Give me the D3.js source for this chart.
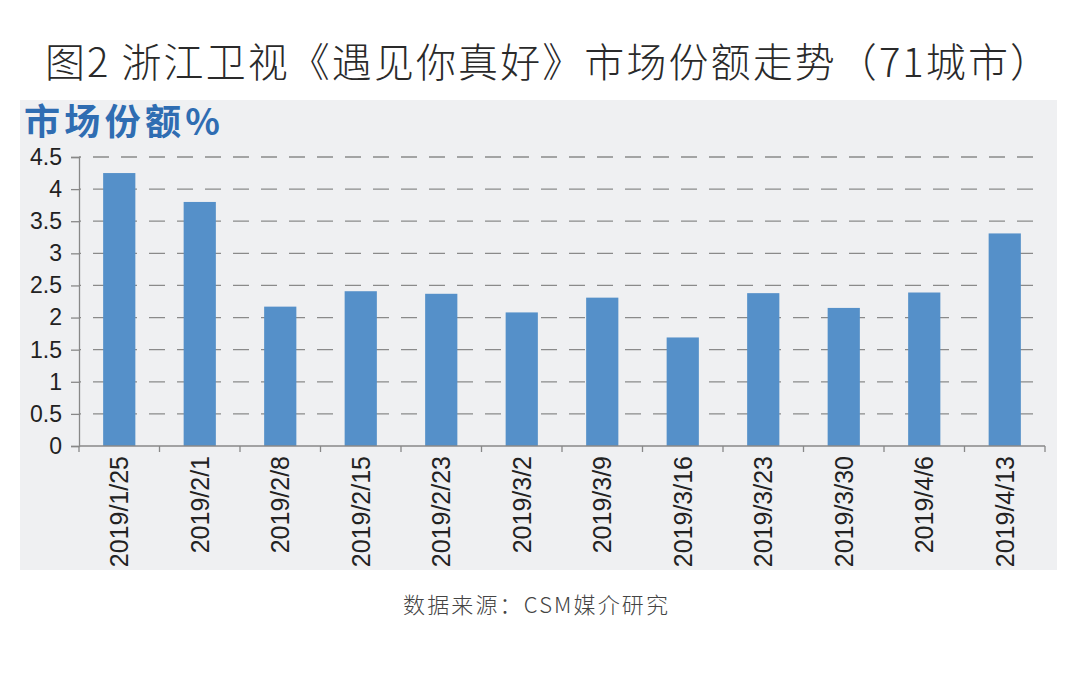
<!DOCTYPE html>
<html><head><meta charset="utf-8">
<script src="https://cdn.jsdelivr.net/npm/d3@7"></script>
<style>body{margin:0;background:#fff;}svg{display:block;}</style>
</head><body>
<svg id="c" width="1080" height="692"></svg>
<script>
const titleText = "图2 浙江卫视《遇见你真好》市场份额走势（71城市）";
const yLabel = "市场份额%";
const sourceText = "数据来源：CSM媒介研究";
const categories = ["2019/1/25","2019/2/1","2019/2/8","2019/2/15","2019/2/23","2019/3/2","2019/3/9","2019/3/16","2019/3/23","2019/3/30","2019/4/6","2019/4/13"];
const values = [4.25,3.80,2.17,2.41,2.37,2.08,2.31,1.69,2.38,2.15,2.39,3.31];
const yTicks = [0,0.5,1,1.5,2,2.5,3,3.5,4,4.5];

const svg = d3.select("#c");
const pL = 79, pR = 1045, pT = 157, pB = 446;
const cjk = "'Noto Sans CJK SC','Noto Sans',sans-serif";
const lat = "'Liberation Sans',Arial,sans-serif";

svg.append("rect").attr("x",20).attr("y",100).attr("width",1037).attr("height",470).attr("fill","#eff0f2");

svg.append("text").attr("x",45).attr("y",77)
  .attr("textLength",1005).attr("lengthAdjust","spacing")
  .attr("font-family",cjk).attr("font-size",40).attr("font-weight",300).attr("fill","#2a2a2a").text(titleText);

svg.append("text").attr("x",24).attr("y",135)
  .attr("textLength",196).attr("lengthAdjust","spacing")
  .attr("font-family",cjk).attr("font-size",36).attr("font-weight",700).attr("fill","#2f6db2").text(yLabel);

const x = d3.scaleBand().domain(categories).range([pL,pR]).paddingInner(0.6).paddingOuter(0.3);
const y = d3.scaleLinear().domain([0,4.5]).range([pB,pT]);

// grid
svg.append("g").selectAll("line").data(yTicks.filter(d=>d>0)).join("line")
  .attr("x1",pL).attr("x2",pR).attr("y1",d=>y(d)).attr("y2",d=>y(d))
  .attr("stroke","#8a8a8a").attr("stroke-width",1.3).attr("stroke-dasharray","16,12").attr("stroke-dashoffset",-14);

// y axis
const ya = svg.append("g").attr("transform",`translate(${pL},0)`)
  .call(d3.axisLeft(y).tickValues(yTicks).tickSize(8).tickPadding(9).tickFormat(d=>String(d)));
ya.select(".domain").attr("stroke","#888").attr("stroke-width",1.3);
ya.selectAll(".tick line").attr("stroke","#888").attr("stroke-width",1.3);
ya.selectAll("text").attr("font-family",lat).attr("font-size",23).attr("fill","#222");

// bars
svg.append("g").selectAll("rect").data(values).join("rect")
  .attr("x",(d,i)=>x(categories[i])).attr("width",x.bandwidth())
  .attr("y",d=>y(d)).attr("height",d=>pB-y(d)).attr("fill","#5590c9");

// x axis
const xEdge = d3.scaleLinear().domain([0,categories.length]).range([pL,pR]);
const xa = svg.append("g").attr("transform",`translate(0,${pB})`);
xa.append("line").attr("x1",pL).attr("x2",pR).attr("stroke","#888").attr("stroke-width",1.3);
xa.selectAll(".tk").data(d3.range(categories.length+1)).join("line").attr("class","tk")
  .attr("x1",d=>xEdge(d)).attr("x2",d=>xEdge(d)).attr("y1",0).attr("y2",6).attr("stroke","#888").attr("stroke-width",1.3);
xa.selectAll(".lb").data(categories).join("text").attr("class","lb")
  .attr("transform",d=>`translate(${x(d)+x.bandwidth()/2+9},10) rotate(-90)`)
  .attr("text-anchor","end").attr("font-family",lat).attr("font-size",25).attr("fill","#222").text(d=>d);

svg.append("text").attr("x",403).attr("y",613)
  .attr("textLength",265).attr("lengthAdjust","spacing")
  .attr("font-family",cjk).attr("font-size",22).attr("font-weight",300).attr("fill","#444").text(sourceText);
</script>
</body></html>
